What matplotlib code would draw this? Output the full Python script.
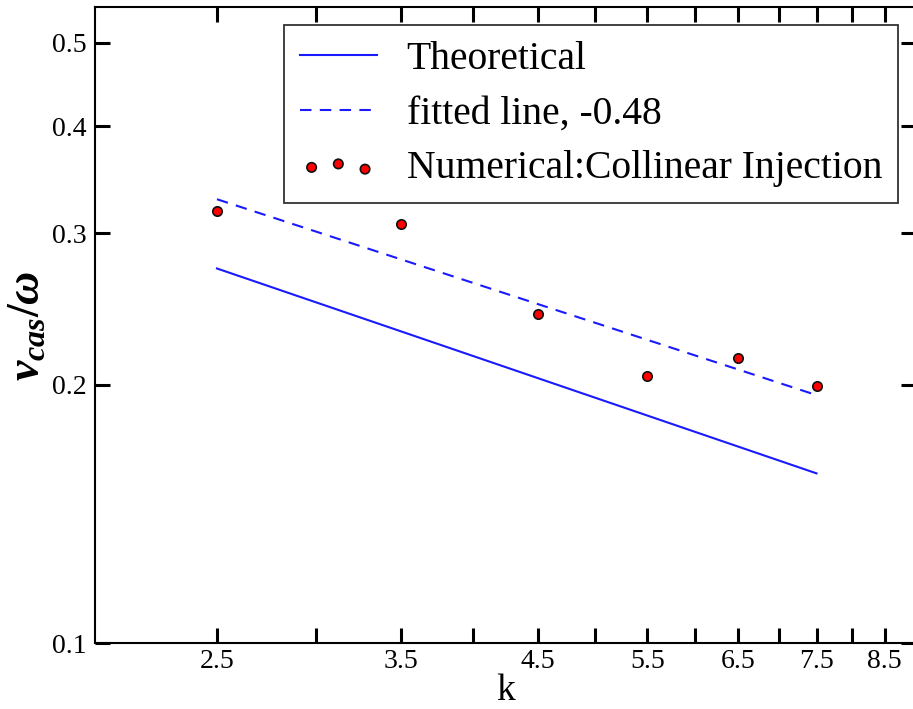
import matplotlib
matplotlib.use("Agg")
import matplotlib.pyplot as plt
from matplotlib.ticker import FixedLocator, FixedFormatter, NullLocator

# ---- data ----
k_points = [2.5, 3.5, 4.5, 5.5, 6.5, 7.5]
v_numerical = [0.3186, 0.3075, 0.2416, 0.2046, 0.2148, 0.1992]

k_line = [2.5, 7.5]
v_theoretical = [0.2731, 0.1577]
v_fitted = [0.3288, 0.1945]

x_ticks = [2.5, 3.0, 3.5, 4.0, 4.5, 5.0, 5.5, 6.0, 6.5, 7.0, 7.5, 8.0, 8.5]
x_tick_labels = ["2.5", "", "3.5", "", "4.5", "", "5.5", "", "6.5", "", "7.5", "", "8.5"]
y_ticks = [0.1, 0.2, 0.3, 0.4, 0.5]
y_tick_labels = ["0.1", "0.2", "0.3", "0.4", "0.5"]

plt.rcParams['font.family'] = ['Liberation Serif', 'DejaVu Serif']
plt.rcParams['mathtext.fontset'] = 'custom'
plt.rcParams['mathtext.it'] = 'Liberation Serif:italic:bold'
plt.rcParams['mathtext.rm'] = 'Liberation Serif:bold'
plt.rcParams['mathtext.bf'] = 'Liberation Serif:bold'

fig = plt.figure(figsize=(9.13, 7.09), dpi=100)
ax = fig.add_axes([95.2 / 913, (709 - 643.3) / 709, (916 - 95.2) / 913, (643.3 - 7.3) / 709])

blue = '#1a1aff'
ax.plot(k_line, v_theoretical, color=blue, lw=1.5, label='Theoretical')
ax.plot(k_line, v_fitted, color=blue, lw=1.5, dashes=(5.5, 4), label='fitted line, -0.48')
ax.scatter(k_points, v_numerical, s=46, c='#ff0000', edgecolors='#111111', linewidths=1.2,
           zorder=3, label='Numerical:Collinear Injection')

ax.set_xscale('log')
ax.set_yscale('log')
ax.set_xlim(2.0, 9.0)
ax.set_ylim(0.1, 0.55)

ax.xaxis.set_major_locator(FixedLocator(x_ticks))
ax.xaxis.set_major_formatter(FixedFormatter(x_tick_labels))
ax.xaxis.set_minor_locator(NullLocator())
ax.yaxis.set_major_locator(FixedLocator(y_ticks))
ax.yaxis.set_major_formatter(FixedFormatter(y_tick_labels))
ax.yaxis.set_minor_locator(NullLocator())

ax.tick_params(axis='both', which='major', direction='in', length=11, width=2.2,
               top=True, right=True, labelsize=20, color='black')
ax.tick_params(axis='x', pad=4)
ax.tick_params(axis='y', pad=6)
for sp in ax.spines.values():
    sp.set_linewidth(1.5)

ax.set_xlabel('k', fontsize=27, labelpad=0)
ax.set_ylabel(r'$v_{cas}/\omega$', fontsize=33, labelpad=2)

leg = ax.legend(loc='upper right', bbox_to_anchor=(0.978, 0.972), borderaxespad=0,
                fontsize=28.5, scatterpoints=3, frameon=True, fancybox=False,
                handlelength=1.95, handletextpad=0.75, labelspacing=0.44,
                borderpad=0.4)
leg.get_frame().set_edgecolor('black')
leg.get_frame().set_linewidth(1.3)

fig.savefig('out.png', dpi=100)
